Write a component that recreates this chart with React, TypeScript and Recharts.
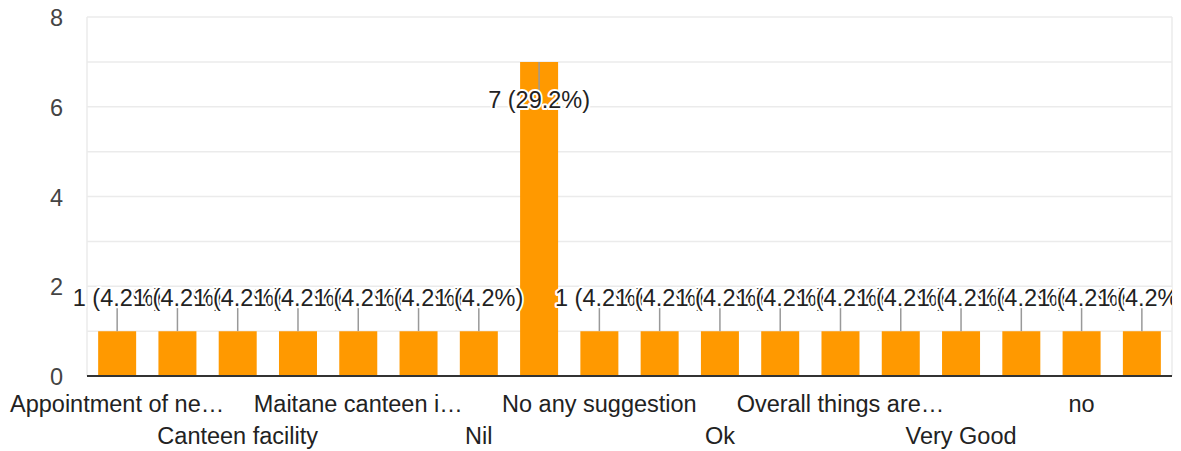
import React from 'react';
import { BarChart, Bar, XAxis, YAxis, CartesianGrid, LabelList } from 'recharts';

// responses, sorted the way the form summary sorts them
const categories = [
	'Appointment of new canteen staff',
	'Better food quality',
	'Canteen facility',
	'Good',
	'Maitane canteen in good condition',
	'NA',
	'Nil',
	'No',
	'No any suggestion',
	'None',
	'Ok',
	'Okay',
	'Overall things are good',
	'Satisfied',
	'Very Good',
	'Very good',
	'no',
	'nothing',
];
const tickLabels = [
	'Appointment of ne…', 'Better food qua…', 'Canteen facility', 'Good', 'Maitane canteen i…', 'NA',
	'Nil', 'No', 'No any suggestion', 'None', 'Ok', 'Okay',
	'Overall things are…', 'Satisfied', 'Very Good', 'Very good', 'no', 'nothing',
];
const counts = [1, 1, 1, 1, 1, 1, 1, 7, 1, 1, 1, 1, 1, 1, 1, 1, 1, 1];
const yTicks = [0, 1, 2, 3, 4, 5, 6, 7, 8];

const total = counts.reduce((a, b) => a + b, 0);
const data = categories.map((name, i) => ({ name, tick: tickLabels[i], count: counts[i] }));

const FONT = "Arial, 'Liberation Sans', sans-serif";
const W = 1181;
const H = 451;
const margin = { top: 17, right: 9, left: 0, bottom: 0 };

const YTick = (props: any) => {
	const { x, y, payload } = props;
	if (payload.value % 2 !== 0) return <g />;
	return (
		<text x={x} y={y} dy={9} textAnchor="end" fontFamily={FONT} fontSize={23.5} fill="#444">
			{payload.value}
		</text>
	);
};

const XTick = (props: any) => {
	const { x, y, index } = props;
	if (index % 2 !== 0) return <g />;
	const row2 = index % 4 === 2;
	return (
		<text x={x} y={y + (row2 ? 68 : 36)} textAnchor="middle" fontFamily={FONT} fontSize={23.5} fill="#222">
			{tickLabels[index]}
		</text>
	);
};

const renderLabel = (props: any) => {
	const { x, y, width, value, index } = props;
	const cx = x + width / 2;
	const text = `${value} (${((value / total) * 100).toFixed(1)}%)`;
	// no room above the tall bar: google puts the label inside it
	const inside = y - margin.top < 50;
	const l1 = inside ? y : y - 23;
	const l2 = inside ? y + 28 : y;
	const ty = inside ? y + 46 : y - 25;
	return (
		<g key={`lbl-${index}`}>
			{index === 0 && (
				<defs>
					<clipPath id="lbl-clip">
						<rect x={0} y={0} width={W - margin.right} height={H} />
					</clipPath>
				</defs>
			)}
			<g clipPath="url(#lbl-clip)">
				<line x1={cx} x2={cx} y1={l1} y2={l2} stroke="#999" strokeWidth={1.5} />
				<text
					x={cx}
					y={ty}
					textAnchor="middle"
					fontFamily={FONT}
					fontSize={23.5}
					fill="#222"
					stroke="#fff"
					strokeWidth={4}
					strokeLinejoin="round"
					paintOrder="stroke"
				>
					{text}
				</text>
			</g>
		</g>
	);
};

export default function App() {
	return (
		<div style={{ position: 'absolute', left: 0, top: 0, width: W, height: H, background: '#fff' }}>
			<BarChart width={W} height={H} data={data} margin={margin} barCategoryGap="18.5%">
				<CartesianGrid
					stroke="#ebebeb"
					strokeWidth={1.5}
					verticalCoordinatesGenerator={({ offset }: any) => [offset.left, offset.left + offset.width]}
				/>
				<XAxis
					dataKey="name"
					interval={0}
					tickLine={false}
					tickSize={0}
					tickMargin={0}
					height={75}
					axisLine={{ stroke: '#333', strokeWidth: 2 }}
					tick={<XTick />}
				/>
				<YAxis
					domain={[0, 8]}
					ticks={yTicks}
					interval={0}
					width={87}
					axisLine={false}
					tickLine={false}
					tickSize={0}
					tickMargin={24}
					tick={<YTick />}
				/>
				<Bar dataKey="count" fill="#ff9900" isAnimationActive={false}>
					<LabelList dataKey="count" content={renderLabel} />
				</Bar>
			</BarChart>
		</div>
	);
}
